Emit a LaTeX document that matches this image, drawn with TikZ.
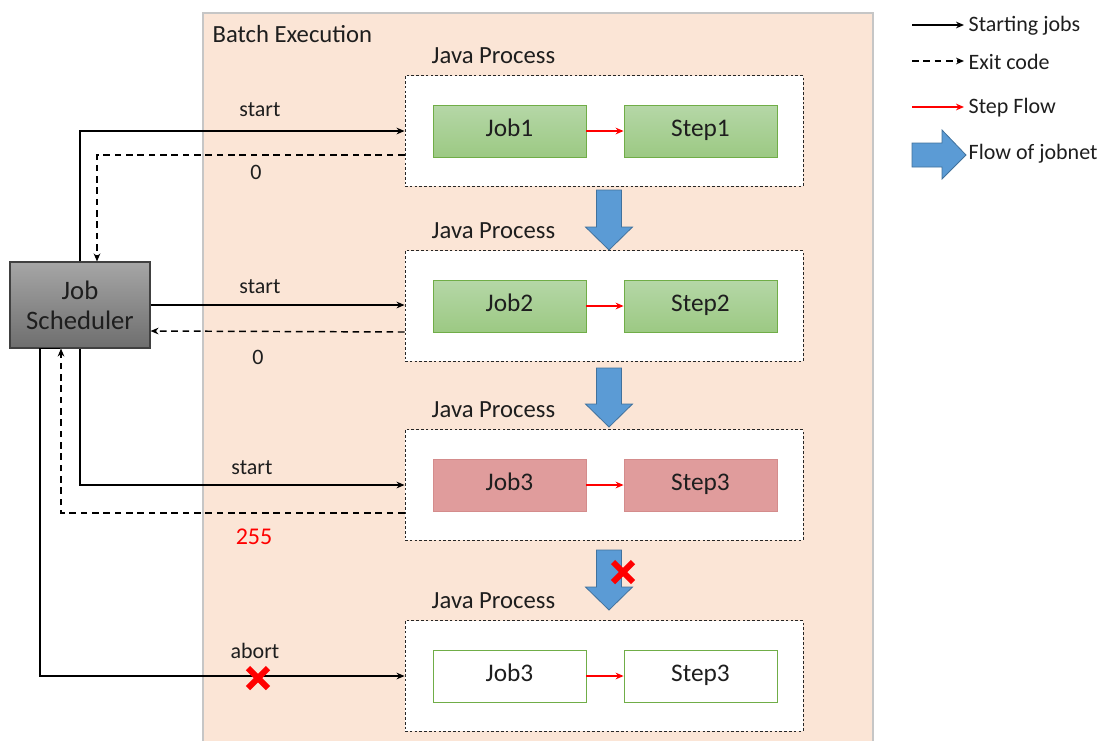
\documentclass[tikz,border=0pt]{standalone}
\usepackage{fontspec}
\setmainfont{Carlito}
\usetikzlibrary{arrows.meta, positioning}

\definecolor{peach}{HTML}{FBE5D6}
\definecolor{jobtop}{HTML}{B5D7A7}
\definecolor{jobbot}{HTML}{9CC983}
\definecolor{jobline}{HTML}{70AD47}
\definecolor{jobred}{HTML}{E09C9C}
\definecolor{jobredline}{HTML}{D48C8C}
\definecolor{schedtop}{HTML}{A6A6A6}
\definecolor{schedbot}{HTML}{6E6E6E}
\definecolor{flowblue}{HTML}{5B9BD5}
\definecolor{flowblueline}{HTML}{41719C}
\definecolor{inkgray}{HTML}{1E1E1E}

% blue jobnet arrow pointing down: x, top, bottom
\newcommand{\jobnetdown}[3]{%
  \filldraw[jobnet] (#1-12.5,#2) -- (#1+12.5,#2) -- (#1+12.5,#3-23)
    -- (#1+23.5,#3-23) -- (#1,#3) -- (#1-23.5,#3-23)
    -- (#1-12.5,#3-23) -- cycle;}

\begin{document}
\begin{tikzpicture}[
    x=0.75pt, y=-0.75pt,
    >={Stealth[length=6pt,width=5pt]},
    font=\fontsize{16.5}{20}\selectfont,
    text=inkgray,
    batchbox/.style={draw=gray!45, fill=peach, line width=1pt},
    hdr/.style={anchor=west, font=\fontsize{18.5}{22}\selectfont},
    process/.style={rectangle, draw=black!85, fill=white, line width=0.7pt,
                    dash pattern=on 2pt off 1.6pt,
                    minimum width=298.5pt, minimum height=83pt},
    okjob/.style={rectangle, draw=jobline, top color=jobtop, bottom color=jobbot,
                  line width=0.6pt, minimum width=114.75pt, minimum height=39pt,
                  text height=2ex, text depth=0.2ex,
                  font=\fontsize{19}{22}\selectfont},
    failjob/.style={okjob, draw=jobredline, top color=jobred, bottom color=jobred},
    idlejob/.style={okjob, top color=white, bottom color=white},
    sched/.style={rectangle, draw=black!75, top color=schedtop, bottom color=schedbot,
                  line width=0.8pt, minimum width=105pt, minimum height=64.5pt,
                  align=center, font=\fontsize{20}{22.5}\selectfont},
    startarr/.style={->, line width=1.1pt, black},
    exitarr/.style={->, line width=1.1pt, black, dash pattern=on 5pt off 3.5pt},
    stepflow/.style={->, red, line width=1.1pt},
    jobnet/.style={fill=flowblue, draw=flowblueline, line width=0.6pt},
    redx/.style={draw=red, line width=4.5pt},
]
    \useasboundingbox (0,0) rectangle (1102,740);

    % rows
    \def\rowA{131}
    \def\rowB{306}
    \def\rowC{485}
    \def\rowD{676}
    % columns
    \def\colP{604}
    \def\colJ{509.5}
    \def\colS{700.5}

    % Batch execution area
    \draw[batchbox] (203,13) rectangle (873,760);
    \node[hdr] (batch) at (208,34) {Batch Execution};

    % Java processes
    \node[process] (javaA) at (\colP,\rowA) {};
    \node[process] (javaB) at (\colP,\rowB) {};
    \node[process] (javaC) at (\colP,\rowC) {};
    \node[process] (javaD) at (\colP,\rowD) {};
    \node[hdr] (plA) at (427,\rowA-75) {Java Process};
    \node[hdr] (plB) at (427,\rowB-75) {Java Process};
    \node[hdr] (plC) at (427,\rowC-75) {Java Process};
    \node[hdr] (plD) at (427,\rowD-75) {Java Process};

    % Jobs and steps
    \node[okjob] (jobA) at (\colJ,\rowA) {Job1};
    \node[okjob] (stepA) at (\colS,\rowA) {Step1};
    \node[okjob] (jobB) at (\colJ,\rowB) {Job2};
    \node[okjob] (stepB) at (\colS,\rowB) {Step2};
    \node[failjob] (jobC) at (\colJ,\rowC) {Job3};
    \node[failjob] (stepC) at (\colS,\rowC) {Step3};
    \node[idlejob] (jobD) at (\colJ,\rowD) {Job3};
    \node[idlejob] (stepD) at (\colS,\rowD) {Step3};

    \draw[stepflow] (jobA) -- (stepA);
    \draw[stepflow] (jobB) -- (stepB);
    \draw[stepflow] (jobC) -- (stepC);
    \draw[stepflow] (jobD) -- (stepD);

    % Flow of jobnet
    \jobnetdown{609}{190}{250}
    \jobnetdown{609}{368}{427}
    \jobnetdown{609}{550}{610}

    % Job scheduler
    \node[sched] (sched) at (80,305) {Job\\Scheduler};

    % start / exit code
    \draw[startarr] (sched.north) |- (javaA.west);
    \draw[exitarr] ([yshift=-18pt]javaA.west) -| ([xshift=12.75pt]sched.north);
    \draw[startarr] (sched.east) -- (javaB.west |- sched.east);
    \draw[exitarr] ([yshift=-19.5pt]javaB.west) -- ([yshift=-19.5pt]sched.east);
    \draw[startarr] (sched.south) |- (javaC.west);
    \draw[exitarr] ([yshift=-21pt]javaC.west) -| ([xshift=-14.25pt]sched.south);
    \draw[startarr] ([xshift=-15pt]sched.south) -- ([xshift=-30pt]sched.south)
        |- (javaD.west);

    \node (stA) at (260,110) {start};
    \node (exA) at (256,172) {0};
    \node (stB) at (260,287) {start};
    \node (exB) at (258,357) {0};
    \node (stC) at (252,468) {start};
    \node[text=red, font=\fontsize{18}{20}\selectfont] (exC) at (254,537) {255};
    \node (stD) at (255,651) {abort};

    % failures
    \coordinate (xabort) at (258,678);
    \coordinate (xflow) at (623,572);
    \draw[redx] ([shift={(-10,-10)}]xabort) -- ([shift={(10,10)}]xabort);
    \draw[redx] ([shift={(-10,10)}]xabort) -- ([shift={(10,-10)}]xabort);
    \draw[redx] ([shift={(-10,-10)}]xflow) -- ([shift={(10,10)}]xflow);
    \draw[redx] ([shift={(-10,10)}]xflow) -- ([shift={(10,-10)}]xflow);

    % Legend
    \node[anchor=west] (lgStart) at (964,26) {Starting jobs};
    \node[anchor=west] (lgExit) at (964,62) {Exit code};
    \node[anchor=west] (lgStep) at (964,108) {Step Flow};
    \node[anchor=west] (lgFlow) at (964,154) {Flow of jobnet};
    \coordinate (lgA) at (912,25);
    \coordinate (lgB) at (912,61);
    \coordinate (lgC) at (912,107);
    \draw[startarr] (lgA) -- (lgA -| lgStart.west);
    \draw[exitarr] (lgB) -- (lgB -| lgExit.west);
    \draw[stepflow] (lgC) -- (lgC -| lgStep.west);
    \filldraw[jobnet] (912,143) -- (942,143) -- (942,130) -- (966,155)
        -- (942,179) -- (942,167) -- (912,167) -- cycle;
\end{tikzpicture}
\end{document}
